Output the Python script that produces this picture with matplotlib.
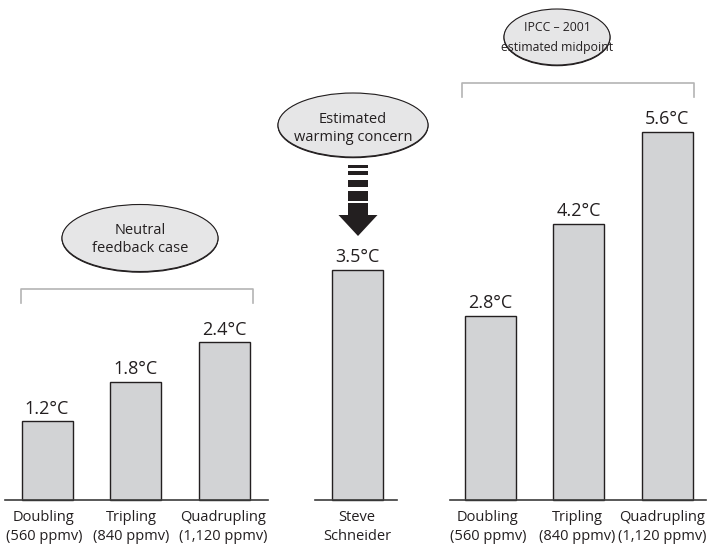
import matplotlib.pyplot as plt
from matplotlib.patches import Ellipse, Polygon, Rectangle

plt.rcParams['font.family'] = ['Open Sans', 'DejaVu Sans']

# warming estimates (°C) for each scenario
labels = ['Doubling\n(560 ppmv)', 'Tripling\n(840 ppmv)', 'Quadrupling\n(1,120 ppmv)',
          'Steve\nSchneider',
          'Doubling\n(560 ppmv)', 'Tripling\n(840 ppmv)', 'Quadrupling\n(1,120 ppmv)']
warming = [1.2, 1.8, 2.4, 3.5, 2.8, 4.2, 5.6]
xpos = [47, 135.5, 224.5, 357, 490, 578.5, 667.5]
label_x = [44, 131, 223, 357, 488, 577, 662]

W, H = 709, 545
BASE = 500      # baseline row in pixels
SCALE = 65.8    # pixels per degree


def py(p):
    # pixel row -> degrees on the y axis
    return (BASE - p) / SCALE


fig = plt.figure(figsize=(W / 100, H / 100), dpi=100)
ax = fig.add_axes([0, 0, 1, 1])
ax.set_xlim(0, W)
ax.set_ylim(py(H), py(0))
ax.axis('off')

bar_fc = '#d2d3d5'
ink = '#231f20'

ax.bar(xpos, warming, width=51, color=bar_fc, edgecolor=ink, linewidth=1.0, zorder=2)
for x, v in zip(xpos, warming):
    ax.annotate(f'{v:.1f}°C', (x, v), xytext=(0, 2.5), textcoords='offset points',
                ha='center', va='bottom', fontsize=13, color=ink)
for x, lab in zip(label_x, labels):
    ax.text(x, py(510), lab, ha='center', va='top', fontsize=10.5, color=ink,
            linespacing=1.33)

# baseline segments under each group
for x0, x1 in [(5, 268), (315, 397), (450, 706)]:
    ax.plot([x0, x1], [0, 0], color='#3c3c3c', lw=1.2, zorder=3)

# group brackets
bracket = '#b4b4b4'
for x0, x1, top, foot in [(21, 253, 289, 303), (462, 694, 83, 97)]:
    ax.plot([x0, x0, x1, x1], [py(foot), py(top), py(top), py(foot)],
            color=bracket, lw=1.2, zorder=1)

# labelled ellipses: centre x, centre y, width, height (pixels), text, size, spacing
bubbles = [
    (140, 238, 156, 67, 'Neutral\nfeedback case', 10.5, 1.3, 1.5),
    (353, 125, 150, 64, 'Estimated\nwarming concern', 10.5, 1.3, 3.5),
    (557, 37, 106, 56, 'IPCC – 2001\nestimated midpoint', 8.8, 1.65, 0.5),
]
for cx, cy, w, h, txt, fs, ls, dy in bubbles:
    # thin shadow under the lower rim
    ax.add_patch(Ellipse((cx, py(cy + 0.7)), w, h / SCALE, facecolor=ink,
                         edgecolor=ink, lw=0.8, zorder=4))
    ax.add_patch(Ellipse((cx, py(cy)), w, h / SCALE, facecolor='#e6e6e7',
                         edgecolor=ink, lw=0.8, zorder=4))
    ax.text(cx, py(cy + dy), txt, ha='center', va='center', fontsize=fs,
            color=ink, linespacing=ls, zorder=5)

# dashed arrow pointing at the Schneider bar
for y0, y1 in [(165, 167.5), (171, 174.5), (180, 186.5), (191, 200.5)]:
    ax.add_patch(Rectangle((348, py(y1)), 20, (y1 - y0) / SCALE, color=ink, lw=0, zorder=4))
arrow = [(348, 203), (368, 203), (368, 215), (377.5, 215), (358, 236),
         (338.5, 215), (348, 215)]
ax.add_patch(Polygon([(x, py(y)) for x, y in arrow], closed=True, color=ink, lw=0, zorder=4))

fig.savefig('out.png', dpi=100)
